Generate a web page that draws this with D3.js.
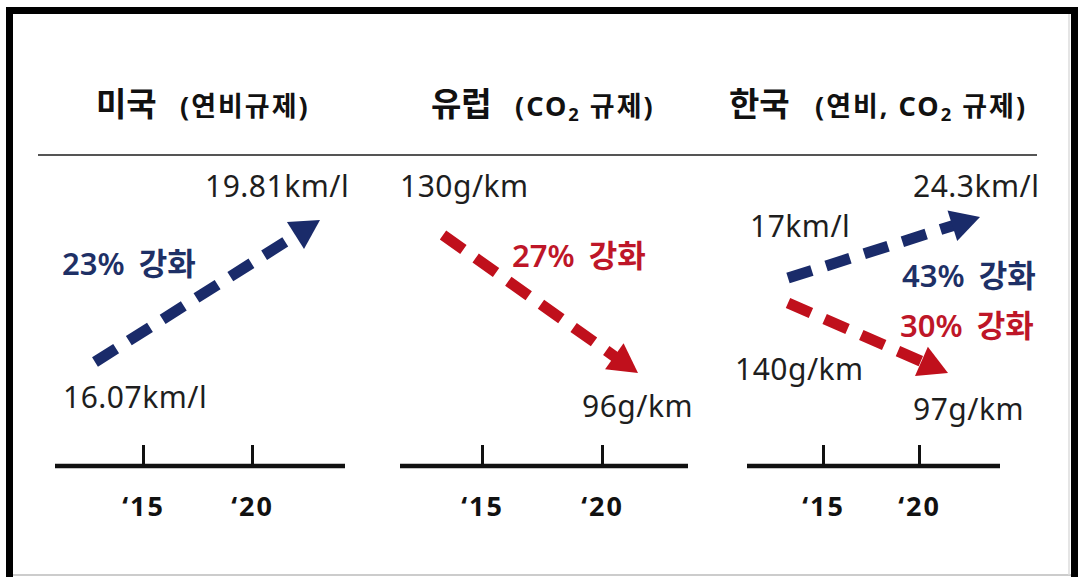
<!DOCTYPE html>
<html>
<head>
<meta charset="utf-8">
<script src="https://cdn.jsdelivr.net/npm/d3@7"></script>
<style>
  html, body { margin: 0; padding: 0; background: #fff; }
  svg { display: block; }
  text { font-family: "Noto Sans", "Noto Sans CJK KR", sans-serif; }
</style>
</head>
<body>
<svg id="chart" width="1078" height="577"></svg>
<script>
// ---- data ----
const regions = ["미국", "유럽", "한국"];
const regulationTypes = ["(연비규제)", "(CO₂ 규제)", "(연비, CO₂ 규제)"];
const years = [2015, 2020];
const yearLabels = ["‘15", "‘20"];

const usFuelEconomy = [16.07, 19.81];   // km/l
const euCo2 = [130, 96];                // g/km
const krFuelEconomy = [17, 24.3];       // km/l
const krCo2 = [140, 97];                // g/km
const changeLabels = ["23% 강화", "27% 강화", "43% 강화", "30% 강화"];

// ---- styling / layout ----
const NAVY = "#1a2b6a", RED = "#c0101c";
const NAVY_TEXT = "#1e3066", RED_TEXT = "#be1628", TEXT = "#1e1e1e";
const FONT = "\"Noto Sans\", \"Noto Sans CJK KR\", sans-serif";

const panelLayout = [
  { titleX: 96,  subX: 180, axisX: [55, 345],  ticks: [143, 252] },
  { titleX: 431, subX: 515, axisX: [400, 688], ticks: [482, 602] },
  { titleX: 729, subX: 815, axisX: [747, 1000], ticks: [823, 919] }
];

const series = [
  { panel: 0, values: usFuelEconomy, unit: "km/l", color: NAVY, textColor: NAVY_TEXT, change: changeLabels[0],
    xr: [95, 320], yr: [362, 220], startLbl: [63, 408], endLbl: [205, 197], changeLbl: [62, 275] },
  { panel: 1, values: euCo2, unit: "g/km", color: RED, textColor: RED_TEXT, change: changeLabels[1],
    xr: [443, 638], yr: [235, 373], startLbl: [400, 197], endLbl: [582, 417], changeLbl: [512, 267] },
  { panel: 2, values: krFuelEconomy, unit: "km/l", color: NAVY, textColor: NAVY_TEXT, change: changeLabels[2],
    xr: [788, 980], yr: [278, 217], startLbl: [750, 237], endLbl: [913, 197], changeLbl: [902, 287] },
  { panel: 2, values: krCo2, unit: "g/km", color: RED, textColor: RED_TEXT, change: changeLabels[3],
    xr: [788, 948], yr: [303, 373], startLbl: [735, 380], endLbl: [913, 420], changeLbl: [900, 337] }
];

const svg = d3.select("#chart");
svg.append("rect").attr("width", 1078).attr("height", 577).attr("fill", "#fff");

// ---- titles ----
function addRich(sel, str) {
  // renders "₂" as a lowered, smaller "2"
  const parts = str.split("₂");
  parts.forEach((p, i) => {
    if (i > 0) {
      sel.append("tspan").attr("font-size", "0.68em").attr("dy", "0.28em").text("2");
      sel.append("tspan").attr("dy", "-0.19em").text(p);
    } else {
      sel.append("tspan").text(p);
    }
  });
}

regions.forEach((r, i) => {
  const L = panelLayout[i];
  svg.append("text").attr("x", L.titleX).attr("y", 116)
    .attr("font-size", 33).attr("font-weight", 700).attr("fill", "#111").text(r);
  const sub = svg.append("text").attr("x", L.subX).attr("y", 116)
    .attr("font-size", 27).attr("font-weight", 700).attr("fill", "#111")
    .attr("letter-spacing", 2);
  addRich(sub, regulationTypes[i]);
});

// separator under the titles
svg.append("line").attr("x1", 38).attr("x2", 1037).attr("y1", 155).attr("y2", 155)
  .attr("stroke", "#555").attr("stroke-width", 2);

// ---- year axes ----
panelLayout.forEach(L => {
  const x = d3.scaleLinear().domain(years).range(L.ticks);
  const g = svg.append("g").attr("transform", "translate(0,466)");
  g.append("line").attr("x1", L.axisX[0]).attr("x2", L.axisX[1])
    .attr("stroke", "#111").attr("stroke-width", 4.5);
  g.call(d3.axisBottom(x).tickValues(years).tickFormat((d, i) => yearLabels[i])
      .tickSize(-21).tickPadding(31))
    .call(a => a.select(".domain").remove());
  g.selectAll(".tick line").attr("stroke", "#111").attr("stroke-width", 3);
  g.selectAll(".tick text").attr("fill", "#111").attr("font-size", 27).attr("font-weight", 700)
    .attr("letter-spacing", 2).attr("font-family", FONT);
});

// ---- arrows ----
const headLen = 29, headHalf = 16;
series.forEach(s => {
  const x = d3.scaleLinear().domain(years).range(s.xr);
  const y = d3.scaleLinear().domain(s.values).range(s.yr);
  const x0 = x(years[0]), y0 = y(s.values[0]);
  const x1 = x(years[1]), y1 = y(s.values[1]);
  const len = Math.hypot(x1 - x0, y1 - y0);
  const ux = (x1 - x0) / len, uy = (y1 - y0) / len;
  const bx = x1 - ux * headLen, by = y1 - uy * headLen;

  svg.append("line")
    .attr("x1", x0).attr("y1", y0).attr("x2", bx + ux * 2).attr("y2", by + uy * 2)
    .attr("stroke", s.color).attr("stroke-width", 11)
    .attr("stroke-dasharray", "25,15");

  const head = [[x1, y1], [bx - uy * headHalf, by + ux * headHalf], [bx + uy * headHalf, by - ux * headHalf]];
  svg.append("path").attr("d", d3.line()(head) + "Z").attr("fill", s.color);

  // value labels
  svg.append("text").attr("x", s.startLbl[0]).attr("y", s.startLbl[1])
    .attr("font-size", 30).attr("letter-spacing", 0.5).attr("fill", TEXT)
    .text(String(s.values[0]) + s.unit);
  svg.append("text").attr("x", s.endLbl[0]).attr("y", s.endLbl[1])
    .attr("font-size", 30).attr("letter-spacing", 0.5).attr("fill", TEXT)
    .text(String(s.values[1]) + s.unit);
  // change label
  svg.append("text").attr("x", s.changeLbl[0]).attr("y", s.changeLbl[1])
    .attr("font-size", 31).attr("font-weight", 600).attr("word-spacing", 6)
    .attr("fill", s.textColor).text(s.change);
});

// ---- frame ----
svg.append("rect").attr("x", 6).attr("y", 7).attr("width", 1072).attr("height", 7).attr("fill", "#000");
svg.append("rect").attr("x", 6).attr("y", 7).attr("width", 7).attr("height", 570).attr("fill", "#000");
svg.append("rect").attr("x", 1071).attr("y", 7).attr("width", 7).attr("height", 570).attr("fill", "#000");
svg.append("line").attr("x1", 13).attr("x2", 1071).attr("y1", 575).attr("y2", 575)
  .attr("stroke", "#ccc").attr("stroke-width", 2);
svg.append("line").attr("x1", 1069).attr("x2", 1069).attr("y1", 14).attr("y2", 575)
  .attr("stroke", "#ddd").attr("stroke-width", 1.5);
</script>
</body>
</html>
